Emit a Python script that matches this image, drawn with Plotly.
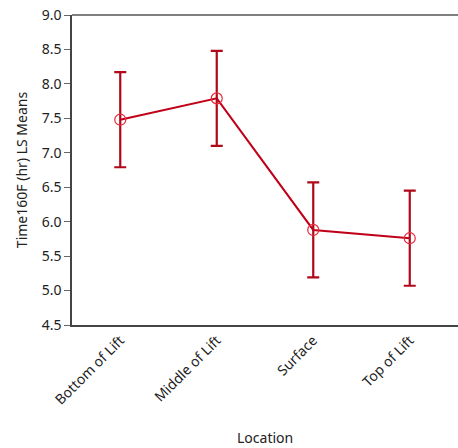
import plotly.graph_objects as go

locations = ["Bottom of Lift", "Middle of Lift", "Surface", "Top of Lift"]
ls_means = [7.48, 7.79, 5.88, 5.76]
ci_half = [0.69, 0.69, 0.69, 0.69]
y_ticks = [4.5, 5.0, 5.5, 6.0, 6.5, 7.0, 7.5, 8.0, 8.5, 9.0]

FONT = "Noto Sans, Open Sans, sans-serif"

fig = go.Figure()
fig.add_trace(go.Scatter(
    x=locations, y=ls_means,
    mode="lines",
    line=dict(color="#C00018", width=2),
    error_y=dict(type="data", array=ci_half, visible=True,
                 color="#B00818", thickness=2.2, width=6),
    showlegend=False, hoverinfo="skip",
))
fig.add_trace(go.Scatter(
    x=locations, y=ls_means,
    mode="markers",
    marker=dict(symbol="circle-open", size=11, color="#E8283A",
                line=dict(width=1.2)),
    showlegend=False,
))

fig.update_layout(
    width=458, height=448,
    margin=dict(l=72, r=0, t=15, b=123),
    plot_bgcolor="white", paper_bgcolor="white",
    font=dict(family=FONT, size=12, color="#222"),
    xaxis=dict(
        type="category", range=[-0.5, 3.5], automargin=False,
        showline=True, linecolor="#444", linewidth=1.5,
        mirror=False, showgrid=False, zeroline=False,
        ticks="", tickangle=-45,
        tickfont=dict(size=14, color="#222"),
    ),
    yaxis=dict(
        range=[4.5, 9.0], tickvals=y_ticks, automargin=False,
        ticktext=[f"{v:.1f}" for v in y_ticks],
        showline=True, linecolor="#444", linewidth=1.5,
        showgrid=False, zeroline=False,
        ticks="outside", ticklen=6, tickcolor="#666",
        tickfont=dict(size=14, color="#222"),
        title=dict(text="Time160F (hr) LS Means", standoff=11,
                   font=dict(size=14, color="#222")),
    ),
    shapes=[dict(type="line", xref="paper", yref="paper",
                 x0=0, x1=1, y0=1, y1=1,
                 line=dict(color="#555", width=1.5))],
    annotations=[dict(text="Location", xref="paper", yref="paper",
                      x=0.5, y=0, yshift=-112, showarrow=False,
                      xanchor="center", yanchor="middle",
                      font=dict(size=14, color="#222"))],
)

fig.write_html(
    "out.html",
    config={"displayModeBar": False},
    post_script="document.body.style.margin='0';document.body.style.overflow='hidden';",
)
